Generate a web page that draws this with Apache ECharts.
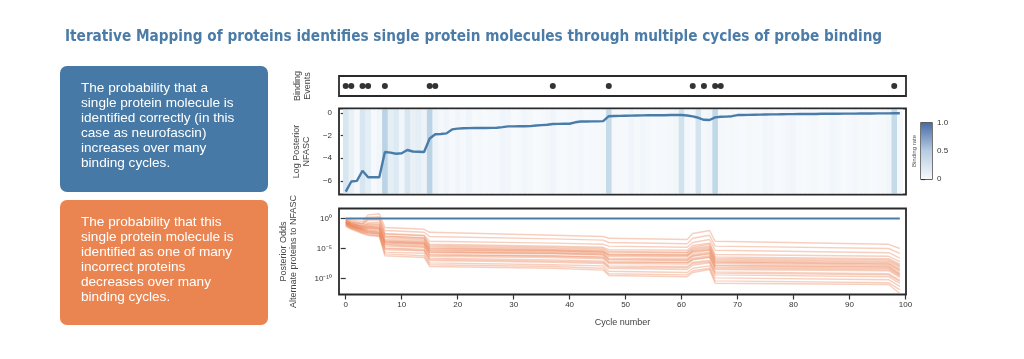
<!DOCTYPE html>
<html><head><meta charset="utf-8">
<script src="https://cdn.jsdelivr.net/npm/echarts@6/dist/echarts.min.js"></script>
<style>html,body{margin:0;padding:0;background:#fff}#c{width:1024px;height:359px}</style>
</head><body><div id="c"></div>
<script>
// ---------- DATA ----------
const titleText = 'Iterative Mapping of proteins identifies single protein molecules through multiple cycles of probe binding';
const blueBoxLines = ['The probability that a','single protein molecule is','identified correctly (in this','case as neurofascin)','increases over many','binding cycles.'];
const orangeBoxLines = ['The probability that this','single protein molecule is','identified as one of many','incorrect proteins','decreases over many','binding cycles.'];

const bindingEventCycles = [0,1,3,4,7,15,16,37,47,62,64,66,67,98];

// binding rate per cycle 0..99 (heatmap)
const bindingRate = [
 0.30,0.15,0.05,0.30,0.20,0.05,0.08,0.45,0.20,0.25,
 0.08,0.30,0.15,0.20,0.12,0.45,0.12,0.06,0.10,0.04,
 0.08,0.05,0.10,0.04,0.06,0.03,0.05,0.04,0.10,0.08,
 0.03,0.05,0.08,0.06,0.03,0.04,0.06,0.10,0.05,0.03,
 0.06,0.04,0.07,0.03,0.05,0.04,0.06,0.40,0.06,0.04,
 0.05,0.10,0.04,0.08,0.06,0.03,0.05,0.04,0.06,0.08,
 0.35,0.07,0.05,0.33,0.06,0.08,0.42,0.06,0.04,0.06,
 0.05,0.03,0.06,0.04,0.05,0.08,0.07,0.03,0.05,0.07,
 0.08,0.05,0.03,0.04,0.06,0.03,0.05,0.08,0.06,0.03,
 0.05,0.07,0.04,0.06,0.03,0.05,0.06,0.08,0.40,0.05
];

// log posterior NFASC per cycle 0..99
const logPosteriorNFASC = [
 -6.95,-6.05,-6.00,-5.10,-5.68,-5.68,-5.68,-3.45,-3.50,-3.60,
 -3.55,-3.27,-3.40,-3.42,-3.45,-2.25,-1.87,-1.85,-1.80,-1.45,
 -1.38,-1.35,-1.33,-1.32,-1.32,-1.32,-1.31,-1.30,-1.25,-1.18,
 -1.18,-1.17,-1.17,-1.16,-1.10,-1.07,-1.04,-0.97,-0.96,-0.95,
 -0.95,-0.82,-0.75,-0.75,-0.74,-0.74,-0.72,-0.28,-0.26,-0.25,
 -0.24,-0.23,-0.22,-0.21,-0.20,-0.20,-0.19,-0.19,-0.18,-0.18,
 -0.18,-0.22,-0.30,-0.42,-0.60,-0.62,-0.38,-0.33,-0.32,-0.28,
 -0.18,-0.17,-0.16,-0.15,-0.14,-0.13,-0.12,-0.12,-0.11,-0.10,
 -0.10,-0.09,-0.09,-0.08,-0.08,-0.07,-0.07,-0.06,-0.06,-0.05,
 -0.05,-0.05,-0.04,-0.04,-0.04,-0.03,-0.03,-0.03,-0.02,-0.02
];

// posterior odds (log10) of alternate proteins vs NFASC, at breakpoint cycles
const oddsCycles = [0,1,3,4,6,7,14,15,37,46,47,61,62,65,66,97,99];
const altOddsLog10 = [
 [-0.2,-0.3,-0.5, 0.6, 0.8,-1.5,-1.8,-2.3,-2.8,-3.0,-3.3,-3.5,-2.5,-2.0,-3.8,-4.3,-5.0],
 [-0.3,-0.5,-0.8, 0.2, 0.3,-2.0,-2.3,-3.0,-3.4,-3.6,-4.0,-4.2,-3.3,-2.8,-4.6,-5.0,-5.8],
 [-0.4,-0.7,-1.0,-0.3,-0.2,-2.5,-2.8,-3.8,-4.1,-4.3,-4.6,-4.8,-4.0,-3.5,-5.3,-5.7,-6.6],
 [-0.3,-0.6,-0.9,-0.1, 0.0,-2.6,-2.9,-4.5,-4.8,-5.0,-5.5,-5.6,-4.8,-4.3,-6.4,-6.7,-7.6],
 [-0.5,-0.8,-1.2,-0.7,-0.6,-2.9,-3.2,-4.3,-4.6,-4.8,-5.2,-5.3,-4.5,-4.1,-6.0,-6.3,-7.2],
 [-0.4,-0.8,-1.3,-0.9,-0.9,-3.0,-3.3,-4.9,-5.2,-5.4,-5.9,-6.0,-5.2,-4.8,-6.8,-7.1,-8.0],
 [-0.5,-0.9,-1.3,-1.0,-1.0,-3.2,-3.5,-4.7,-5.0,-5.2,-5.6,-5.7,-5.0,-4.6,-6.6,-6.9,-7.8],
 [-0.6,-1.0,-1.4,-1.2,-1.2,-3.5,-3.7,-5.0,-5.3,-5.5,-6.0,-6.1,-5.4,-5.0,-7.0,-7.3,-8.2],
 [-0.6,-1.1,-1.6,-1.3,-1.5,-3.8,-4.0,-5.2,-5.4,-5.6,-6.1,-6.2,-5.5,-5.2,-7.2,-7.5,-8.6],
 [-0.6,-1.0,-1.5,-1.4,-1.4,-3.7,-3.9,-5.3,-5.5,-5.7,-6.3,-6.4,-5.7,-5.3,-7.3,-7.6,-8.5],
 [-0.7,-1.1,-1.6,-1.5,-1.6,-3.9,-4.1,-5.5,-5.7,-5.9,-6.6,-6.7,-6.0,-5.6,-7.5,-7.8,-8.8],
 [-0.7,-1.2,-1.8,-1.6,-1.7,-4.0,-4.2,-5.6,-5.8,-6.0,-6.8,-6.9,-6.2,-5.8,-7.9,-8.1,-9.3],
 [-0.7,-1.2,-1.7,-1.7,-1.8,-4.1,-4.3,-5.7,-5.9,-6.1,-6.9,-7.0,-6.3,-5.9,-7.8,-8.0,-9.1],
 [-0.8,-1.2,-1.8,-1.9,-2.0,-4.3,-4.5,-6.0,-6.2,-6.4,-7.2,-7.3,-6.6,-6.2,-8.1,-8.3,-9.4],
 [-0.9,-1.3,-1.9,-2.1,-2.3,-4.4,-4.7,-6.1,-6.3,-6.5,-7.3,-7.4,-6.8,-6.4,-8.3,-8.5,-9.6],
 [-0.8,-1.3,-1.9,-2.0,-2.2,-4.6,-4.8,-6.3,-6.5,-6.7,-7.5,-7.6,-6.9,-6.5,-8.5,-8.7,-9.8],
 [-0.9,-1.4,-2.0,-2.2,-2.4,-4.9,-5.1,-6.6,-6.9,-7.1,-7.9,-8.0,-7.3,-7.0,-8.9,-9.2,-10.3],
 [-1.0,-1.5,-2.2,-2.3,-2.5,-5.0,-5.3,-6.8,-7.1,-7.3,-8.1,-8.2,-7.5,-7.2,-9.1,-9.4,-10.5],
 [-1.0,-1.5,-2.1,-2.4,-2.6,-5.2,-5.4,-7.0,-7.3,-7.5,-8.3,-8.5,-7.8,-7.4,-9.4,-9.7,-10.8],
 [-1.1,-1.6,-2.3,-2.5,-2.7,-5.6,-5.8,-7.4,-7.7,-7.9,-8.8,-9.0,-8.3,-7.9,-9.9,-10.2,-11.3],
 [-1.2,-1.7,-2.4,-2.7,-2.9,-5.9,-6.2,-7.7,-8.0,-8.3,-9.2,-9.4,-8.7,-8.3,-10.4,-10.7,-11.9],
 [-1.3,-1.8,-2.5,-2.8,-3.0,-6.2,-6.5,-8.0,-8.3,-8.6,-9.5,-9.7,-9.0,-8.5,-10.8,-11.0,-12.5]
];
// NFASC against itself: odds 10^0
const nfascOddsCycles = [0,99];
const nfascOddsLog10 = [0,0];

const xTicks = [0,10,20,30,40,50,60,70,80,90,100];
const logPostTicks = [0,-2,-4,-6];
const oddsTicks = [0,-5,-10];
const oddsTickLabels = {'0':'10\u2070','-5':'10\u207B\u2075','-10':'10\u207B\u00B9\u2070'};
const colorbarTicks = [0,0.5,1];
const colorbarTickLabels = {'0':'0','0.5':'0.5','1':'1.0'};

// ---------- CHART ----------
const FONT = 'Liberation Sans, Arial, sans-serif';
const AX = '#333';
const colorbarColors = ['#f6f9fc','#b6cce2','#4a6ca7'];
const heatColors = ['#fbfcfe','#d3e4ef','#8fb6d3','#4a6ca7'];
const chart = echarts.init(document.getElementById('c'), null, {renderer:'canvas'});

const X_MIN = -1.2, X_MAX = 100.1;
const Y1_MIN = -7.2, Y1_MAX = 0.4;
const Y2_MIN = -12.67, Y2_MAX = 1.67;

function xAx(gi, extra){
  return Object.assign({type:'value', gridIndex:gi, min:X_MIN, max:X_MAX,
    axisLine:{show:false, onZero:false}, axisTick:{show:false}, axisLabel:{show:false}, splitLine:{show:false}}, extra||{});
}
const nameStyle = {fontSize:9, color:'#444', fontFamily:FONT, lineHeight:10};

const series = [];
series.push({type:'scatter', xAxisIndex:0, yAxisIndex:0, symbolSize:6,
  itemStyle:{color:'#000'}, data: bindingEventCycles.map(c=>[c,0.5]), silent:true});
series.push({type:'custom', xAxisIndex:1, yAxisIndex:1, z:1, silent:true,
  dimensions:['cycle','rate'], encode:{x:0, y:1},
  data: bindingRate.map((r,i)=>[i,r]),
  renderItem:function(params, api){
    const c = api.value(0);
    const p1 = api.coord([c-0.5, Y1_MAX]);
    const p2 = api.coord([c+0.5, Y1_MIN]);
    return {type:'rect', shape:{x:p1[0], y:p1[1]+1, width:p2[0]-p1[0]+0.4, height:p2[1]-p1[1]-2},
      style:{fill: api.visual('color')}};
  }});
series.push({type:'line', xAxisIndex:1, yAxisIndex:1, z:3, symbol:'none', silent:true,
  lineStyle:{color:'#4a7ca9', width:2.4}, data: logPosteriorNFASC.map((v,i)=>[i,v])});
altOddsLog10.forEach(arr=>{
  series.push({type:'line', xAxisIndex:2, yAxisIndex:2, symbol:'none', silent:true, z:2,
    lineStyle:{color:'rgba(234,128,84,0.38)', width:1.4},
    data: arr.map((v,k)=>[oddsCycles[k], v])});
});
series.push({type:'line', xAxisIndex:2, yAxisIndex:2, symbol:'none', silent:true, z:4,
  lineStyle:{color:'#4a7ca9', width:2.2}, data: nfascOddsLog10.map((v,k)=>[nfascOddsCycles[k], v])});
series.push({type:'custom', xAxisIndex:3, yAxisIndex:3, silent:true, data:[[0,0]],
  renderItem:function(params, api){
    const p1 = api.coord([0,1]);
    const p2 = api.coord([1,0]);
    return {type:'rect', shape:{x:p1[0], y:p1[1], width:p2[0]-p1[0], height:p2[1]-p1[1]},
      style:{fill: new echarts.graphic.LinearGradient(0,0,0,1,[
        {offset:0,color:colorbarColors[2]},{offset:0.5,color:colorbarColors[1]},{offset:1,color:colorbarColors[0]}])}};
  }});

const graphics = [];
function box(y, h, color, lines){
  graphics.push({type:'rect', shape:{x:60, y:y, width:208, height:h, r:7}, style:{fill:color}, silent:true});
  graphics.push({type:'text', x:81, y:y+15, silent:true,
    style:{text: lines.join('\n'), fill:'#fff', font:'13.6px '+FONT, lineHeight:15}});
}
box(66, 126, '#4679a5', blueBoxLines);
box(200, 125, '#ea8551', orangeBoxLines);

const option = {
  animation:false,
  title:{text:titleText, left:60, top:25, textStyle:{fontSize:15.2, fontWeight:'bold', color:'#4b7ba7',
    fontFamily:'Liberation Sans Narrow, DejaVu Sans Condensed, sans-serif'}},
  grid:[
    {left:339, top:76, width:567, height:20, show:true, borderColor:'#2a2a2a', borderWidth:1.8, backgroundColor:'#fff'},
    {left:339, top:108.5, width:567, height:86, show:true, borderColor:'#2a2a2a', borderWidth:1.8},
    {left:339, top:208.5, width:567, height:86, show:true, borderColor:'#2a2a2a', borderWidth:1.8},
    {left:921, top:123, width:11, height:56, show:true, borderColor:'#2a2a2a', borderWidth:1.3}
  ],
  xAxis:[
    xAx(0), xAx(1),
    xAx(2, {axisTick:{show:true, customValues:xTicks, length:5, lineStyle:{color:AX, width:1.2}},
      axisLabel:{show:true, customValues:xTicks, fontSize:8, color:'#333', fontFamily:FONT, margin:6},
      name:'Cycle number', nameLocation:'middle', nameGap:23, nameTextStyle:nameStyle}),
    {type:'value', gridIndex:3, min:0, max:1, show:false}
  ],
  yAxis:[
    {type:'value', gridIndex:0, min:0, max:1, axisLine:{show:false}, axisTick:{show:false}, axisLabel:{show:false}, splitLine:{show:false},
      name:'Binding\nEvents', nameLocation:'middle', nameRotate:90, nameGap:26, nameTextStyle:nameStyle},
    {type:'value', gridIndex:1, min:Y1_MIN, max:Y1_MAX, axisLine:{show:false}, splitLine:{show:false},
      axisTick:{show:true, customValues:logPostTicks, length:5, lineStyle:{color:AX, width:1.2}},
      axisLabel:{show:true, customValues:logPostTicks, fontSize:8, color:'#333', fontFamily:FONT, margin:7,
        formatter:v=>String(v).replace('-','\u2212')},
      name:'Log Posterior\nNFASC', nameLocation:'middle', nameRotate:90, nameGap:26, nameTextStyle:nameStyle},
    {type:'value', gridIndex:2, min:Y2_MIN, max:Y2_MAX, axisLine:{show:false}, splitLine:{show:false},
      axisTick:{show:true, customValues:oddsTicks, length:5, lineStyle:{color:AX, width:1.2}},
      axisLabel:{show:true, customValues:oddsTicks, fontSize:8, color:'#333', fontFamily:FONT, margin:7,
        formatter:v=>oddsTickLabels[String(v)]},
      name:'Posterior Odds\nAlternate proteins to NFASC', nameLocation:'middle', nameRotate:90, nameGap:40, nameTextStyle:nameStyle},
    {type:'value', gridIndex:3, min:0, max:1, position:'right', axisLine:{show:false}, splitLine:{show:false},
      axisTick:{show:true, customValues:colorbarTicks, length:4, lineStyle:{color:AX, width:1.2}},
      axisLabel:{show:true, customValues:colorbarTicks, fontSize:8, color:'#333', fontFamily:FONT, margin:5,
        formatter:v=>colorbarTickLabels[String(v)]}},
    {type:'value', gridIndex:3, min:0, max:1, position:'left', axisLine:{show:false}, axisTick:{show:false}, axisLabel:{show:false}, splitLine:{show:false},
      name:'Binding rate', nameLocation:'middle', nameRotate:90, nameGap:4, nameTextStyle:{fontSize:6, color:'#555', fontFamily:FONT}}
  ],
  visualMap:{type:'continuous', show:false, seriesIndex:1, dimension:1, min:0, max:1, inRange:{color:heatColors}},
  graphic:graphics,
  series:series
};
chart.setOption(option);
</script></body></html>
